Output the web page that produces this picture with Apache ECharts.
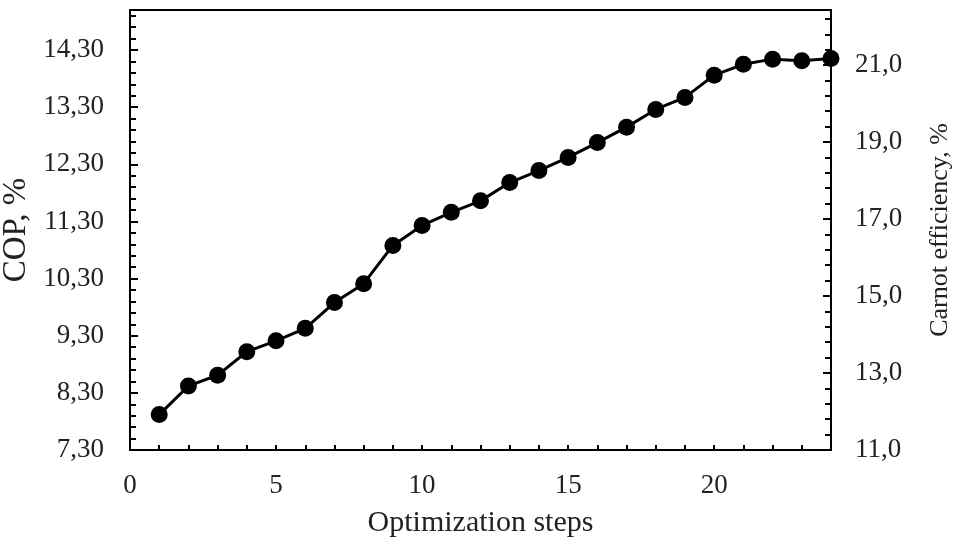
<!DOCTYPE html>
<html>
<head>
<meta charset="utf-8">
<script src="https://cdn.jsdelivr.net/npm/echarts@6/dist/echarts.min.js"></script>
<style>
html,body{margin:0;padding:0;background:#fff;}
#chart{width:956px;height:547px;}
</style>
</head>
<body>
<div id="chart"></div>
<script>
var steps = [1,2,3,4,5,6,7,8,9,10,11,12,13,14,15,16,17,18,19,20,21,22,23,24];
var cop = [7.92,8.42,8.61,9.02,9.21,9.43,9.88,10.21,10.88,11.23,11.46,11.66,11.98,12.19,12.42,12.68,12.95,13.26,13.47,13.86,14.05,14.14,14.11,14.15];
var xTickLabels = ['0','5','10','15','20'];
var leftTickLabels = ['7,30','8,30','9,30','10,30','11,30','12,30','13,30','14,30'];
var rightTickLabels = ['11,0','13,0','15,0','17,0','19,0','21,0'];

var FONT = '"Liberation Serif", "DejaVu Serif", serif';
var chart = echarts.init(document.getElementById('chart'));

function leftFmt(v){
  var idx = Math.round(v - 7.3);
  if (Math.abs(v - 7.3 - idx) > 0.01) return '';
  return leftTickLabels[idx] || '';
}
function rightFmt(v){
  var k = (v - 11) / 2;
  var idx = Math.round(k);
  if (Math.abs(k - idx) > 0.01) return '';
  return rightTickLabels[idx] || '';
}
function xFmt(v){
  if (v % 5 !== 0) return '';
  return xTickLabels[v / 5] || '';
}

chart.setOption({
  animation: false,
  backgroundColor: '#fff',
  grid: {left: 130, right: 125, top: 10, bottom: 97, show: true, borderColor: '#000', borderWidth: 2, containLabel: false, outerBoundsMode: 'none'},
  xAxis: {
    type: 'value', min: 0, max: 24, interval: 1,
    name: 'Optimization steps', nameLocation: 'middle', nameGap: 58,
    nameTextStyle: {fontFamily: FONT, fontSize: 30, color: '#222'},
    axisLine: {show: true, lineStyle: {color: '#000', width: 2}},
    axisTick: {show: true, inside: true, length: 5, lineStyle: {color: '#000', width: 2}},
    axisLabel: {formatter: xFmt, fontFamily: FONT, fontSize: 27, color: '#222', margin: 22},
    splitLine: {show: false}
  },
  yAxis: [{
    type: 'value', min: 7.3, max: 15.0, interval: 1, position: 'left',
    name: 'COP, %', nameLocation: 'middle', nameGap: 90, nameRotate: 90,
    nameTextStyle: {fontFamily: FONT, fontSize: 33, color: '#222'},
    axisLine: {show: true, lineStyle: {color: '#000', width: 2}},
    axisTick: {show: true, inside: true, length: 8, lineStyle: {color: '#000', width: 2}},
    minorTick: {show: true, splitNumber: 5, length: 6, lineStyle: {color: '#000', width: 2}},
    axisLabel: {formatter: leftFmt, fontFamily: FONT, fontSize: 27, color: '#222', margin: 26},
    splitLine: {show: false}
  }, {
    type: 'value', min: 11, max: 22.43, interval: 2, position: 'right',
    name: 'Carnot efficiency, %', nameLocation: 'middle', nameGap: 96, nameRotate: 90,
    nameTextStyle: {fontFamily: FONT, fontSize: 26, color: '#222'},
    axisLine: {show: true, lineStyle: {color: '#000', width: 2}},
    axisTick: {show: true, inside: true, length: 8, lineStyle: {color: '#000', width: 2}},
    minorTick: {show: true, splitNumber: 5, length: 6, lineStyle: {color: '#000', width: 2}},
    axisLabel: {formatter: rightFmt, fontFamily: FONT, fontSize: 27, color: '#222', margin: 24},
    splitLine: {show: false}
  }],
  series: [{
    type: 'line', yAxisIndex: 0, clip: false,
    data: steps.map(function(s, i){ return [s, cop[i]]; }),
    symbol: 'circle', symbolSize: 17,
    lineStyle: {color: '#000', width: 3},
    itemStyle: {color: '#000'}
  }]
});
</script>
</body>
</html>
